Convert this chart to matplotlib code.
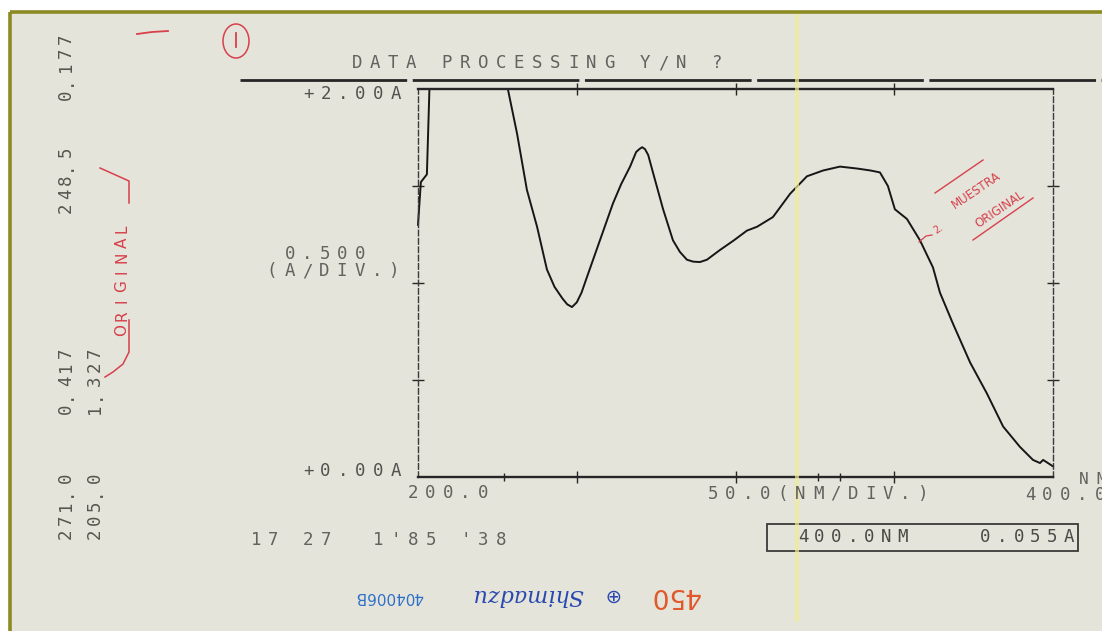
import matplotlib
matplotlib.use("Agg")
import matplotlib.pyplot as plt
from matplotlib.patches import Rectangle, Ellipse

W, H, DPI = 1102, 631, 100

# Recorded spectrum: wavelength (nm) and absorbance (A); trace pegs at +2.00A
wavelength_nm = [200.0, 200.9, 202.8, 203.6, 215.0, 228.3, 231.2, 234.3, 237.5,
                 240.6, 243.0, 245.5, 247.0, 248.5, 250.0, 251.5, 253.2, 257.3,
                 261.4, 264.0, 266.8, 268.7, 269.7, 270.6, 271.5, 272.5, 274.0,
                 277.2, 280.3, 282.5, 284.7, 286.7, 288.8, 291.0, 295.1, 299.5,
                 303.6, 306.8, 311.8, 317.2, 322.5, 327.6, 332.9, 338.3, 342.5,
                 345.5, 348.0, 350.2, 354.0, 358.1, 362.2, 364.4, 368.5, 373.9,
                 379.2, 384.3, 389.6, 393.7, 395.9, 396.9, 398.4, 400.0]
absorbance = [1.30, 1.52, 1.56, 2.00, 2.00, 2.00, 1.77, 1.48, 1.29,
              1.07, 0.98, 0.92, 0.89, 0.876, 0.90, 0.95, 1.03, 1.22,
              1.41, 1.51, 1.60, 1.675, 1.69, 1.70, 1.69, 1.66, 1.57,
              1.38, 1.22, 1.16, 1.12, 1.11, 1.108, 1.12, 1.17, 1.22,
              1.27, 1.29, 1.34, 1.46, 1.55, 1.58, 1.60, 1.59, 1.58,
              1.57, 1.50, 1.38, 1.33, 1.22, 1.08, 0.95, 0.79, 0.59,
              0.43, 0.26, 0.155, 0.088, 0.072, 0.088, 0.072, 0.055]
assert len(wavelength_nm) == len(absorbance)

x_range = (200.0, 400.0)
y_range = (0.0, 2.0)
x_major = [250, 300, 350]
x_minor = [227, 326, 333]
y_major = [0.5, 1.0, 1.5]

# Printer / recorder text
header = "DATA PROCESSING Y/N ?"
y_top_label = "+2.00A"
y_bottom_label = "+0.00A"
y_scale_value = "0.500"
y_scale_unit = "(A/DIV.)"
x_start_label = "200.0"
x_scale_label = "50.0(NM/DIV.)"
x_end_label = "400.0"
x_unit = "NM"
timestamp = "17 27  1'85 '38"
cursor_readout = "400.0NM    0.055A"
peak_col1 = ["0.177", "248.5", "0.417", "271.0"]
peak_col2 = ["1.327", "205.0"]

MONO = "DejaVu Sans Mono"
PRINT = "#62625e"
INK = "#161616"
RED = "#d8404c"
BLUE = "#2f6fc8"
PAPER = "#e4e4da"

fig = plt.figure(figsize=(W / DPI, H / DPI), dpi=DPI)
fig.patch.set_facecolor("white")


def pixel_axes(z):
    a = fig.add_axes([0, 0, 1, 1], zorder=z)
    a.set_xlim(0, W)
    a.set_ylim(H, 0)
    a.axis("off")
    a.patch.set_alpha(0)
    return a


# paper and olive border
bg = pixel_axes(0)
bg.add_patch(Rectangle((10, 12), W - 10, H - 12, color=PAPER, lw=0))
bg.plot([10, W], [12, 12], color="#8c8a22", lw=2.6, solid_capstyle="butt")
bg.plot([10, 10], [12, H], color="#8c8a22", lw=2.6, solid_capstyle="butt")
bg.plot([240, W], [80, 80], color="#262626", lw=2.0, linestyle=(0, (60, 2)))

# spectrum panel
ax = fig.add_axes([418 / W, 1 - 477 / H, (1053 - 418) / W, (477 - 89) / H], zorder=1)
ax.patch.set_alpha(0)
ax.set_xlim(*x_range)
ax.set_ylim(*y_range)
ax.plot(wavelength_nm, absorbance, color=INK, lw=1.4, clip_on=False,
        solid_joinstyle="round")
for side in ("top", "bottom"):
    ax.spines[side].set_linewidth(1.7)
    ax.spines[side].set_color("#262626")
for side in ("left", "right"):
    ax.spines[side].set_linewidth(1.0)
    ax.spines[side].set_color("#3a3a3a")
    ax.spines[side].set_linestyle((0, (4, 2)))
ax.set_xticks(x_major)
ax.set_xticks(x_minor, minor=True)
ax.set_yticks(y_major)
ax.tick_params(which="major", direction="inout", length=9, width=1.0,
               colors="#262626", top=True, right=True,
               labelbottom=False, labelleft=False)
ax.tick_params(axis="x", which="minor", direction="inout", length=6,
               width=1.0, colors="#262626", top=False)

ov = pixel_axes(2)


def dot_text(x0, y0, s, pitch, size=12.5, color=PRINT, rot=0, **kw):
    for i, ch in enumerate(s):
        if ch == " ":
            continue
        if rot == 90:
            x, y = x0, y0 - i * pitch
        else:
            x, y = x0 + i * pitch, y0
        ov.text(x, y, ch, ha="center", va="center", rotation=rot,
                fontsize=size, family=kw.get("family", MONO), color=color)


dot_text(357, 63, header, 18)
dot_text(308, 94, y_top_label, 17.5, color="#52524e")
dot_text(290, 254, y_scale_value, 17.5)
dot_text(272, 271, y_scale_unit, 17.5)
dot_text(308, 471, y_bottom_label, 17.5, color="#52524e")
dot_text(413, 493, x_start_label, 17.5)
dot_text(713, 494, x_scale_label, 17.5)
dot_text(1030, 495, x_end_label, 17.5)
dot_text(1084, 479, x_unit, 17.5, size=11.5)
dot_text(256, 540, timestamp, 17.5)

# cursor readout box
ov.add_patch(Rectangle((767, 524), 311, 27, fill=False, ec="#3a3a3a", lw=1.3))
dot_text(803, 537, cursor_readout, 16.6, color="#4a4a46")

# peak-pick columns (printed sideways)
for label, y0 in zip(peak_col1, [95, 208, 409, 534]):
    dot_text(66, y0, label, 14, size=12.5, color="#56564f", rot=90)
for label, y0 in zip(peak_col2, [409, 534]):
    dot_text(95, y0, label, 14, size=12.5, color="#56564f", rot=90)

# handwritten notes in red pen
ov.plot([137, 152, 168], [34, 32, 31], color=RED, lw=1.3)
ov.add_patch(Ellipse((236, 41), 26, 34, fill=False, ec=RED, lw=1.1))
ov.plot([236, 236], [33, 47], color=RED, lw=1.3)
ov.plot([100, 129, 129], [168, 181, 203], color=RED, lw=1.1)
dot_text(122, 330, "ORIGINAL", 14.5, size=11, color=RED, rot=90,
         family="DejaVu Sans")
ov.plot([129, 129, 123, 113, 105], [320, 352, 364, 372, 377], color=RED, lw=1.1)
ov.plot([935, 983], [193, 160], color=RED, lw=1.0)
ov.plot([973, 1033], [240, 198], color=RED, lw=1.0)
ov.plot([919, 926, 932], [242, 236, 235], color=RED, lw=0.9)
ov.text(938, 229, "2.", rotation=34, ha="center", va="center",
        fontsize=7, color=RED)
ov.text(976, 190, "MUESTRA", rotation=34, ha="center", va="center",
        fontsize=8.5, color=RED)
ov.text(1000, 209, "ORIGINAL", rotation=34, ha="center", va="center",
        fontsize=8.5, color=RED)

# maker's stamp printed upside down on the chart paper
ov.text(389, 597, "404006B", rotation=180, ha="center", va="center",
        fontsize=11, color=BLUE, family="DejaVu Sans")
ov.text(528, 595, "Shimadzu", rotation=180, ha="center", va="center",
        fontsize=16, color="#2848b0", family="DejaVu Serif", style="italic")
ov.text(611, 595, "\u2295", rotation=180, ha="center", va="center",
        fontsize=14, color="#2848b0", family="DejaVu Sans")
ov.text(675, 595, "450", rotation=180, ha="center", va="center",
        fontsize=19, color="#e0582a", family="DejaVu Sans")

# faint yellow streak across the sheet
ov.add_patch(Rectangle((795, 14), 4, 608, color="#efed94", alpha=0.7, lw=0))

fig.savefig("out.png", dpi=DPI, facecolor=fig.get_facecolor())
